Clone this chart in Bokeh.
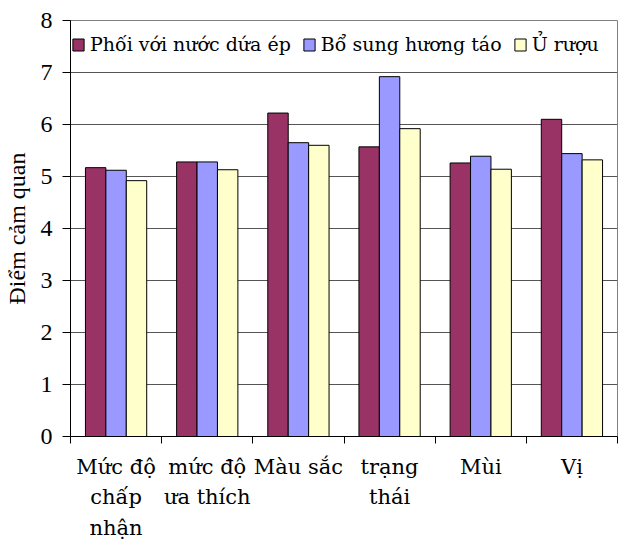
from bokeh.plotting import figure
from bokeh.models import ColumnDataSource, Range1d, FixedTicker, Legend, LegendItem
from bokeh.transform import dodge
from bokeh.embed import file_html
from bokeh.resources import INLINE

# Sensory scores per attribute for three product treatments
categories = ["Mức độ\nchấp\nnhận", "mức độ\nưa thích", "Màu sắc", "trạng\nthái", "Mùi", "Vị"]
phoi_nuoc_dua = [5.17, 5.28, 6.22, 5.57, 5.26, 6.10]
bo_sung_huong_tao = [5.12, 5.28, 5.65, 6.92, 5.39, 5.44]
u_ruou = [4.92, 5.13, 5.60, 5.92, 5.14, 5.32]
series_names = ["Phối với nước dứa ép", "Bổ sung hương táo", "Ủ rượu"]
series_colors = ["#993366", "#9999FF", "#FFFFCC"]
y_ticks = [0, 1, 2, 3, 4, 5, 6, 7, 8]

AXIS_FONT = "'Liberation Serif'"
LABEL_FONT = "'DejaVu Serif'"
n = len(categories)
centers = [i + 0.5 for i in range(n)]
boundaries = list(range(n + 1))

source = ColumnDataSource(dict(
    x=centers,
    s0=phoi_nuoc_dua,
    s1=bo_sung_huong_tao,
    s2=u_ruou,
))

p = figure(
    width=625, height=550,
    x_range=Range1d(0, n), y_range=Range1d(0, 8),
    output_backend="svg", toolbar_location=None,
    min_border_left=68, min_border_right=8,
    min_border_top=20, min_border_bottom=114,
)
p.background_fill_color = "white"
p.border_fill_color = "white"
p.outline_line_color = "#808080"

bar_w = 0.224
offsets = [-bar_w, 0.0, bar_w]
renderers = []
for key, off, col in zip(["s0", "s1", "s2"], offsets, series_colors):
    r = p.vbar(x=dodge("x", off), top=key, width=bar_w, bottom=0, source=source,
               fill_color=col, line_color="black", line_width=1)
    renderers.append(r)

# x axis: labels at category centres, tick marks at category boundaries
xa = p.xaxis[0]
xa.ticker = FixedTicker(ticks=centers, minor_ticks=boundaries)
xa.major_label_overrides = {c: lab for c, lab in zip(centers, categories)}
xa.major_tick_out = 0
xa.major_tick_in = 0
xa.minor_tick_out = 7
xa.minor_tick_in = 0
xa.minor_tick_line_color = "black"
xa.axis_line_color = "black"
xa.major_label_text_font = LABEL_FONT
xa.major_label_text_font_size = "21px"
xa.major_label_text_color = "black"
xa.major_label_text_line_height = 1.28
xa.major_label_standoff = 11

ya = p.yaxis[0]
ya.ticker = FixedTicker(ticks=y_ticks)
ya.major_tick_out = 8
ya.major_tick_in = 0
ya.minor_tick_line_color = None
ya.axis_line_color = "black"
ya.major_tick_line_color = "black"
ya.major_label_text_font = AXIS_FONT
ya.major_label_text_font_size = "24px"
ya.major_label_text_color = "black"
ya.major_label_standoff = 10
ya.axis_label = "Điểm cảm quan"
ya.axis_label_text_font = AXIS_FONT
ya.axis_label_text_font_size = "24px"
ya.axis_label_text_font_style = "normal"
ya.axis_label_text_color = "black"
ya.axis_label_standoff = 8

p.xgrid.grid_line_color = None
p.ygrid.ticker = FixedTicker(ticks=y_ticks)
p.ygrid.grid_line_color = "#555555"
p.ygrid.grid_line_width = 1

legend = Legend(
    items=[LegendItem(label=nm, renderers=[r]) for nm, r in zip(series_names, renderers)],
    orientation="horizontal", location=(1, 381),
    border_line_color=None, background_fill_alpha=0,
    padding=0, margin=0, spacing=11, label_standoff=5,
    glyph_width=14, glyph_height=15,
    label_text_font=LABEL_FONT, label_text_font_size="19px", label_text_color="black",
)
p.add_layout(legend)

open("out.html", "w").write(file_html(p, INLINE))
